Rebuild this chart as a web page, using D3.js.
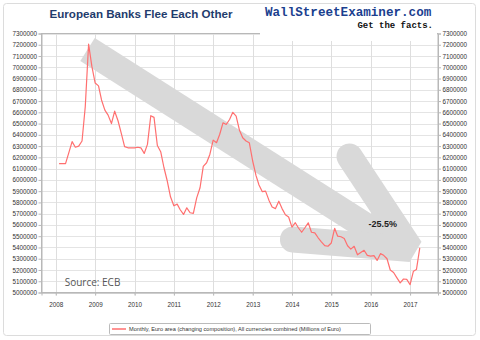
<!DOCTYPE html>
<html><head><meta charset="utf-8">
<script src="https://cdn.jsdelivr.net/npm/d3@7"></script>
<style>html,body{margin:0;padding:0;background:#fff;}svg{display:block;}</style>
</head><body>
<svg id="chart" width="480" height="340"></svg>
<script>
// ---- data ----
const title = "European Banks Flee Each Other";
const seriesName = "Monthly, Euro area (changing composition), All currencies combined (Millions of Euro)";
const sourceText = "Source: ECB";
const changeLabel = "-25.5%";
const firstYear = 2008, firstMonth = 1; // Feb 2008, monthly
const values = [
 6145000,6145000,6145000,6240000,6340000,6290000,6300000,6345000,6650000,7205000,
 7010000,6860000,6835000,6710000,6620000,6575000,6500000,6610000,6525000,6410000,
 6295000,6285000,6285000,6285000,6290000,6285000,6235000,6315000,6570000,6555000,
 6305000,6250000,6110000,5990000,5850000,5770000,5785000,5735000,5693000,5752000,
 5708000,5702000,5840000,5930000,6120000,6152000,6226000,6353000,6330000,6403000,
 6507000,6492000,6536000,6600000,6566000,6440000,6374000,6345000,6330000,6170000,
 6040000,5955000,5895000,5900000,5820000,5760000,5745000,5811000,5745000,5690000,
 5670000,5580000,5620000,5575000,5535000,5575000,5619000,5535000,5530000,5486000,
 5450000,5417000,5411000,5440000,5570000,5500000,5495000,5480000,5415000,5385000,
 5410000,5335000,5355000,5375000,5330000,5323000,5328000,5285000,5345000,5330000,
 5300000,5200000,5178000,5130000,5085000,5120000,5116000,5070000,5189000,5204000,
 5397000
];
const yTicks = d3.range(5000000, 7300001, 100000);
const xTickYears = [2008,2009,2010,2011,2012,2013,2014,2015,2016,2017];
// trend arrow annotation, in data space
const arrowShaft = [[new Date(2008,9,22), 7158000],[new Date(2016,6,1), 5450000]];
const arrowHead = [[new Date(2015,5,19), 6208000],[new Date(2017,0,6), 5386000],[new Date(2014,0,10), 5471000]];
const changeLabelPos = [new Date(2016,3,22), 5585000];
const sourcePos = [new Date(2008,0,1), 5060000];

// ---- layout ----
const svg = d3.select("#chart");
const plot = {left:41.5, right:438, top:33.5, bottom:292.5};
const x = d3.scaleTime().domain([new Date(2007,7,22), new Date(2017,8,17)]).range([plot.left, plot.right]);
const y = d3.scaleLinear().domain([5000000, 7300000]).range([plot.bottom, plot.top]);
const data = values.map((v,i)=>({date:new Date(firstYear, firstMonth+i, 1), value:v}));

// outer frame
svg.append("rect").attr("x",3.5).attr("y",3.5).attr("width",472).attr("height",332).attr("rx",3)
  .attr("fill","#fff").attr("stroke","#dcdcdc");

// grid
const g = svg.append("g");
g.selectAll(".hg").data(yTicks).join("line")
  .attr("x1",plot.left).attr("x2",plot.right)
  .attr("y1",d=>Math.round(y(d))+0.5).attr("y2",d=>Math.round(y(d))+0.5)
  .attr("stroke","#e4e4e4").attr("stroke-width",1);
g.selectAll(".vg").data(xTickYears).join("line")
  .attr("x1",d=>Math.round(x(new Date(d,0,1)))+0.5).attr("x2",d=>Math.round(x(new Date(d,0,1)))+0.5)
  .attr("y1",plot.top).attr("y2",plot.bottom+3)
  .attr("stroke","#dedede").attr("stroke-width",1);

// plot frame
svg.append("rect").attr("x",plot.left).attr("y",plot.top).attr("width",plot.right-plot.left).attr("height",plot.bottom-plot.top)
  .attr("fill","none").attr("stroke","#b8b8b8").attr("stroke-width",1);

// axes
const fmt = d3.format("d");
const yl = svg.append("g").attr("transform",`translate(${plot.left},0)`)
  .call(d3.axisLeft(y).tickValues(yTicks).tickFormat(fmt).tickSize(3).tickPadding(1.5));
const yr = svg.append("g").attr("transform",`translate(${plot.right},0)`)
  .call(d3.axisRight(y).tickValues(yTicks).tickFormat(fmt).tickSize(3).tickPadding(1.5));
const xa = svg.append("g").attr("transform",`translate(0,${plot.bottom})`)
  .call(d3.axisBottom(x).tickValues(xTickYears.map(d=>new Date(d,0,1))).tickFormat(d3.timeFormat("%Y")).tickSize(3).tickPadding(7));
[yl,yr,xa].forEach(a=>{
  a.select(".domain").attr("stroke","#b8b8b8");
  a.selectAll(".tick line").attr("stroke","#b8b8b8");
  a.selectAll("text").attr("font-family","Liberation Sans, Arial, sans-serif").attr("font-size","6.3px").attr("fill","#333");
});

// logo background
svg.append("rect").attr("x",260).attr("y",28).attr("width",177).attr("height",13).attr("fill","#fff");

// trend arrow
const line = d3.line().x(d=>x(d[0])).y(d=>y(d[1]));
const arrow = svg.append("g").attr("fill","none").attr("stroke","#d9d9d9");
arrow.append("path").attr("d",line(arrowShaft)).attr("stroke-width",27).attr("stroke-linecap","butt");
arrow.append("path").attr("d",line(arrowHead)).attr("stroke-width",26).attr("stroke-linecap","round").attr("stroke-linejoin","bevel");

// series line
svg.append("path").datum(data)
  .attr("d", d3.line().x(d=>x(d.date)).y(d=>y(d.value)))
  .attr("fill","none").attr("stroke","#ff6f6f").attr("stroke-width",1.2).attr("stroke-linejoin","round");

// annotations
svg.append("text").attr("x",x(changeLabelPos[0])).attr("y",y(changeLabelPos[1])).attr("text-anchor","middle")
  .attr("font-family","Liberation Sans, Arial, sans-serif").attr("font-weight","bold").attr("font-size","9px").attr("fill","#222")
  .text(changeLabel);
svg.append("text").attr("x",x(sourcePos[0])+9).attr("y",y(sourcePos[1])).attr("font-family","Open Sans, Liberation Sans, sans-serif")
  .attr("font-size","10px").attr("fill","#555").text(sourceText);

// title
svg.append("text").attr("x",141).attr("y",18).attr("text-anchor","middle")
  .attr("font-family","Liberation Sans, Arial, sans-serif").attr("font-weight","bold").attr("font-size","11.6px").attr("fill","#1f3c6d")
  .text(title);
svg.append("text").attr("x",265).attr("y",16).attr("font-family","Liberation Mono, DejaVu Sans Mono, monospace")
  .attr("font-weight","bold").attr("font-size","12.6px").attr("fill","#1b3f8f").text("WallStreetExaminer.com");
svg.append("text").attr("x",433).attr("y",27.5).attr("text-anchor","end").attr("font-family","Liberation Mono, DejaVu Sans Mono, monospace")
  .attr("font-weight","bold").attr("font-size","9px").attr("fill","#111").text("Get the facts.");

// legend
const lg = svg.append("g");
lg.append("rect").attr("x",109.5).attr("y",323.5).attr("width",261).attr("height",11).attr("fill","#fff").attr("stroke","#bbb").attr("rx",1);
lg.append("line").attr("x1",112).attr("x2",126).attr("y1",329).attr("y2",329).attr("stroke","#ff6f6f").attr("stroke-width",1.5);
lg.append("text").attr("x",129).attr("y",331).attr("font-family","Liberation Sans, Arial, sans-serif").attr("font-size","5.6px").attr("fill","#333").text(seriesName);
</script>
</body></html>
